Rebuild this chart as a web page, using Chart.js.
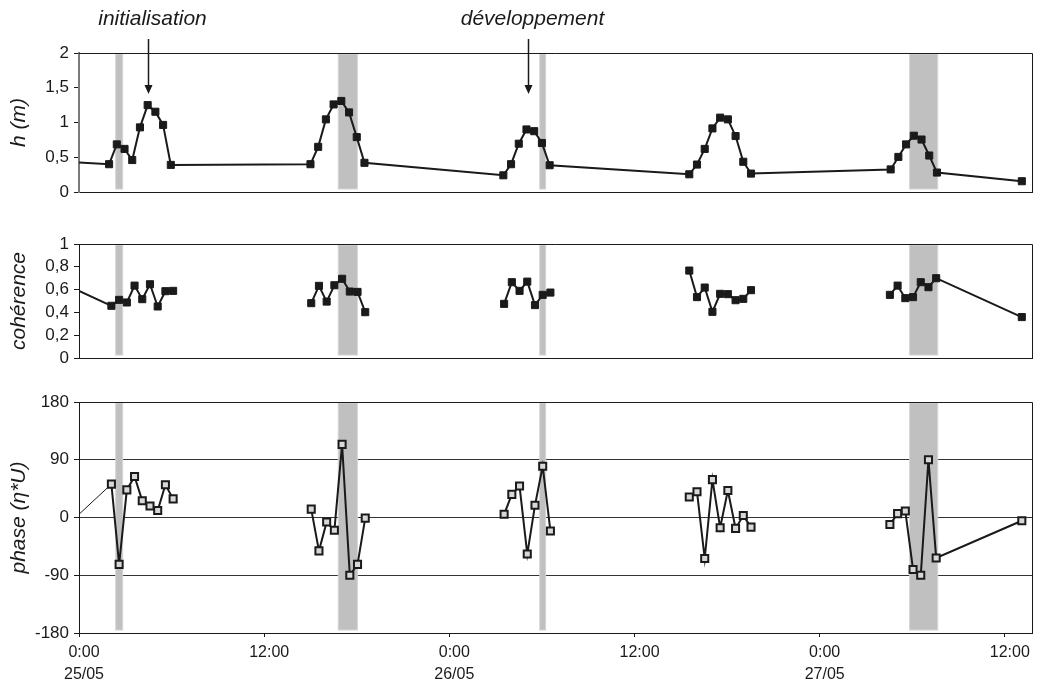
<!DOCTYPE html>
<html>
<head>
<meta charset="utf-8">
<title>h, cohérence, phase</title>
<script src="https://cdn.jsdelivr.net/npm/chart.js@4.4.1/dist/chart.umd.min.js"></script>
<style>
  html, body { margin: 0; padding: 0; background: #fff; }
  #wrap { position: relative; width: 1042px; height: 682px; }
  #wrap canvas { position: absolute; left: 0; top: 0; }
</style>
</head>
<body>
<div id="wrap">
  <canvas id="chartH" width="1042" height="682"></canvas>
  <canvas id="chartCoh" width="1042" height="682"></canvas>
  <canvas id="chartPhase" width="1042" height="682"></canvas>
</div>
<script>
// hours since 25/05 0:00
const tH = [0, 1.95, 2.45, 2.95, 3.45, 3.95, 4.45, 4.95, 5.45, 5.95,
  15.0, 15.5, 16.0, 16.5, 17.0, 17.5, 18.0, 18.5,
  27.5, 28.0, 28.5, 29.0, 29.5, 30.0, 30.5,
  39.55, 40.05, 40.55, 41.05, 41.55, 42.05, 42.55, 43.05, 43.55,
  52.6, 53.1, 53.6, 54.1, 54.6, 55.1, 55.6, 61.1]
const hVal = [0.425, 0.40, 0.685, 0.62, 0.46, 0.93, 1.25, 1.155, 0.965, 0.39,
  0.40, 0.65, 1.045, 1.26, 1.31, 1.145, 0.79, 0.42,
  0.24, 0.40, 0.695, 0.90, 0.875, 0.705, 0.385,
  0.255, 0.395, 0.62, 0.915, 1.07, 1.045, 0.805, 0.435, 0.265,
  0.325, 0.505, 0.685, 0.81, 0.755, 0.525, 0.28, 0.155]

const tW = [0, 2.1, 2.6, 3.1, 3.6, 4.1, 4.6, 5.1, 5.6, 6.1,
  15.05, 15.55, 16.05, 16.55, 17.05, 17.55, 18.05, 18.55,
  27.55, 28.05, 28.55, 29.05, 29.55, 30.05, 30.55,
  39.55, 40.05, 40.55, 41.05, 41.55, 42.05, 42.55, 43.05, 43.55,
  52.55, 53.05, 53.55, 54.05, 54.55, 55.05, 55.55, 61.1]
const cohVal = [0.589, 0.458, 0.51, 0.487, 0.635, 0.516, 0.647, 0.452, 0.586, 0.589,
  0.481, 0.633, 0.495, 0.638, 0.695, 0.583, 0.58, 0.402,
  0.475, 0.665, 0.589, 0.67, 0.464, 0.554, 0.574,
  0.767, 0.534, 0.618, 0.405, 0.563, 0.56, 0.507, 0.519, 0.595,
  0.554, 0.635, 0.525, 0.534, 0.665, 0.621, 0.70, 0.359]
const phaseVal = [5, 52, -73, 43, 64, 26, 18, 11, 51, 29,
  13, -52, -7, -20, 114, -90, -73, -1,
  5, 36, 49, -57, 19, 80, -21,
  32, 40, -64, 59, -16, 42, -17, 3, -15,
  -11, 6, 10, -81, -90, 90, -63, -5]

// shaded periods (hours)
const bandStart = [2.38, 16.8, 29.86, 53.83]
const bandEnd = [2.83, 18.04, 30.24, 55.65]

const xTicks = [0, 12, 24, 36, 48, 60]
const xTickLabels = [['0:00', '25/05'], '12:00', ['0:00', '26/05'], '12:00', ['0:00', '27/05'], '12:00']
const xMax = 61.76

const notes = ['initialisation', 'développement']
const noteAt = [4.45, 29.1]

// no line drawn across a gap longer than this (hours)
const maxGap = 8

const ink = '#1a1a1a'
Chart.defaults.font.family = "'Liberation Sans', Arial, sans-serif"
Chart.defaults.color = ink

const bandPlugin = {
    id: 'bands',
    beforeDatasetsDraw(chart) {
        const ctx = chart.ctx
        const a = chart.chartArea
        const x = chart.scales.x
        ctx.save()
        ctx.fillStyle = '#c0c0c0'
        ctx.strokeStyle = '#d4d4d4'
        ctx.lineWidth = 1
        for (let i = 0; i < bandStart.length; i++) {
            const x0 = x.getPixelForValue(bandStart[i])
            const x1 = x.getPixelForValue(bandEnd[i])
            ctx.fillRect(x0, a.top + 1, x1 - x0, a.bottom - a.top - 4)
            ctx.strokeRect(x0, a.top + 1, x1 - x0, a.bottom - a.top - 4)
        }
        // frame top + right
        ctx.strokeStyle = ink
        ctx.beginPath()
        ctx.moveTo(a.left, a.top + 0.5)
        ctx.lineTo(a.right + 0.5, a.top + 0.5)
        ctx.lineTo(a.right + 0.5, a.bottom)
        ctx.stroke()
        ctx.restore()
    }
}

const notePlugin = {
    id: 'notes',
    afterDraw(chart) {
        const ctx = chart.ctx
        const x = chart.scales.x
        ctx.save()
        ctx.fillStyle = ink
        ctx.strokeStyle = ink
        ctx.lineWidth = 1.5
        ctx.font = "italic 21px 'Liberation Sans', Arial, sans-serif"
        ctx.textAlign = 'center'
        ctx.textBaseline = 'middle'
        notes.forEach((txt, i) => {
            const px = Math.round(x.getPixelForValue(noteAt[i])) + 0.5
            ctx.fillText(txt, px + 4, 19)
            ctx.beginPath()
            ctx.moveTo(px, 39)
            ctx.lineTo(px, 90)
            ctx.stroke()
            ctx.beginPath()
            ctx.moveTo(px - 4, 85)
            ctx.lineTo(px, 94)
            ctx.lineTo(px + 4, 85)
            ctx.closePath()
            ctx.fill()
        })
        ctx.restore()
    }
}

function fmt(v) {
    return String(Math.round(v * 100) / 100).replace('.', ',')
}

function gapColor(ctx) {
    return ctx.p1.parsed.x - ctx.p0.parsed.x > maxGap ? 'rgba(0,0,0,0)' : undefined
}

function panel(id, cfg) {
    const bottomAxis = !!cfg.bottomAxis
    return new Chart(document.getElementById(id), {
        type: 'line',
        data: {
            datasets: [{
                data: cfg.t.map((t, i) => ({ x: t, y: cfg.values[i] })),
                borderColor: ink,
                borderWidth: 2,
                pointStyle: 'rect',
                pointRadius: ctx => ctx.dataIndex === 0 ? 0 : cfg.radius,
                pointBackgroundColor: cfg.pointFill,
                pointBorderColor: ink,
                pointBorderWidth: cfg.pointBorder,
                segment: cfg.segment || {},
                tension: 0
            }]
        },
        options: {
            responsive: false,
            animation: false,
            events: [],
            layout: { padding: { top: cfg.top, bottom: cfg.bottom, left: 0, right: 10 } },
            plugins: { legend: { display: false }, tooltip: { enabled: false } },
            scales: {
                x: {
                    type: 'linear',
                    min: 0,
                    max: xMax,
                    afterBuildTicks: s => { s.ticks = xTicks.map(v => ({ value: v })) },
                    afterFit: s => { s.height = bottomAxis ? 49 : 0 },
                    border: { display: true, color: ink, width: 1 },
                    grid: { display: true, drawOnChartArea: false, drawTicks: bottomAxis, tickLength: 4, tickColor: ink },
                    ticks: {
                        display: bottomAxis,
                        autoSkip: false,
                        maxRotation: 0,
                        padding: 5,
                        labelOffset: 5,
                        font: { size: 16, lineHeight: 1.35 },
                        callback: v => xTickLabels[xTicks.indexOf(v)]
                    }
                },
                y: {
                    min: cfg.min,
                    max: cfg.max,
                    afterFit: s => { s.width = 79 },
                    border: { display: true, color: cfg.axisColor || ink, width: cfg.axisWidth || 1 },
                    grid: {
                        drawOnChartArea: !!cfg.gridColor,
                        color: cfg.gridColor || ink,
                        tickColor: ink,
                        tickLength: 5
                    },
                    ticks: { stepSize: cfg.step, autoSkip: false, padding: 5, font: { size: 17 }, callback: fmt },
                    title: {
                        display: true,
                        text: cfg.title,
                        font: { size: 21, style: 'italic' },
                        padding: { top: 7, bottom: 0 }
                    }
                }
            }
        },
        plugins: [bandPlugin].concat(cfg.extra || [])
    })
}

panel('chartH', {
    t: tH, values: hVal, min: 0, max: 2, step: 0.5, title: 'h (m)',
    top: 53, bottom: 682 - 192, radius: 5, pointFill: ink, pointBorder: 1,
    axisColor: '#7a7a7a', axisWidth: 2, extra: [notePlugin]
})

panel('chartCoh', {
    t: tW, values: cohVal, min: 0, max: 1, step: 0.2, title: 'cohérence',
    top: 244, bottom: 682 - 358, radius: 5, pointFill: ink, pointBorder: 1,
    segment: { borderColor: gapColor }
})

panel('chartPhase', {
    t: tW, values: phaseVal, min: -180, max: 180, step: 90, title: 'phase (η*U)',
    top: 402, bottom: 0, radius: 5, pointFill: '#d8d8d8', pointBorder: 2,
    bottomAxis: true,
    gridColor: ctx => (ctx.tick && ctx.tick.value === -180) ? 'rgba(0,0,0,0)' : '#333',
    segment: {
        borderColor: gapColor,
        borderWidth: ctx => ctx.p0DataIndex === 0 ? 1 : 2
    }
})
</script>
</body>
</html>
